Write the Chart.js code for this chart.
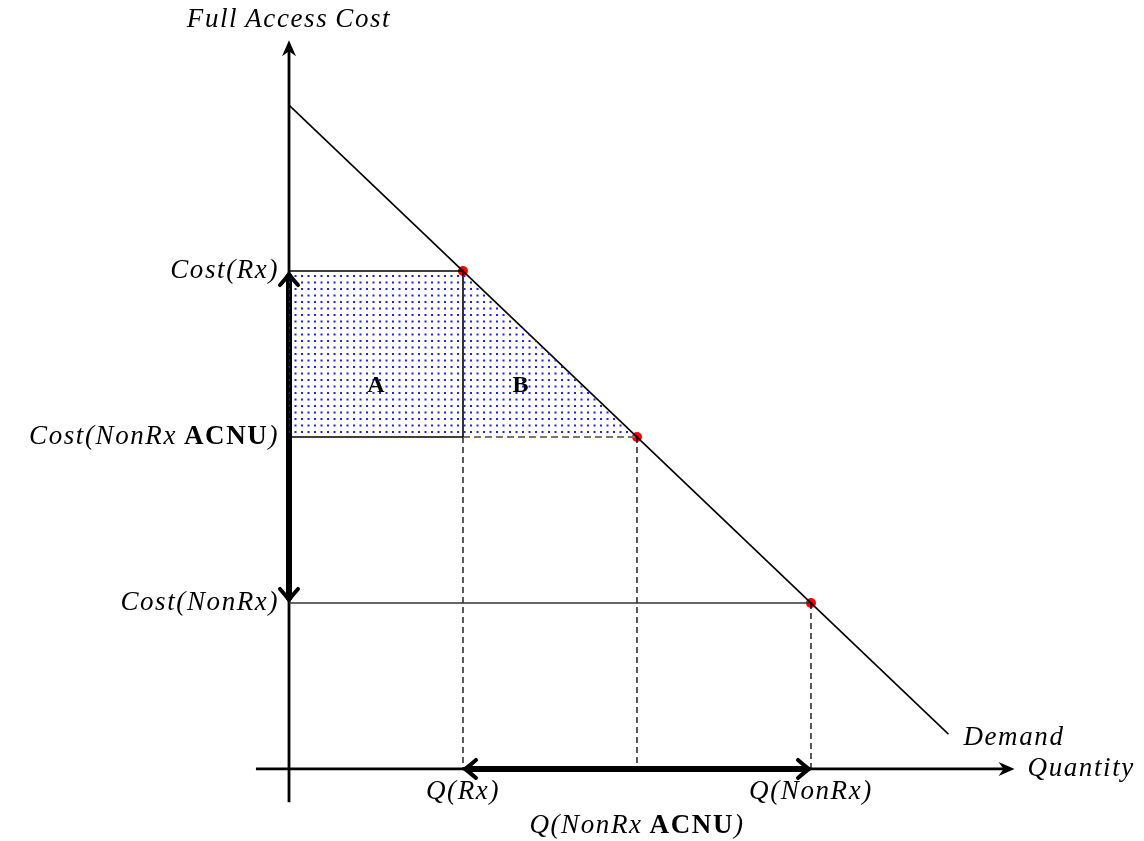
<!DOCTYPE html>
<html>
<head>
<meta charset="utf-8">
<script src="https://cdn.jsdelivr.net/npm/chart.js@4.4.1/dist/chart.umd.min.js"></script>
<style>
  body { margin: 0; background: #fff; }
  canvas { display: block; }
</style>
</head>
<body>
<canvas id="myChart" width="1144" height="841"></canvas>
<script>
"use strict"
// Mengen (x) und Kosten (y) der drei Punkte auf der Nachfragekurve
const qLevels = [1, 2, 3];          // Q(Rx), Q(NonRx ACNU), Q(NonRx)
const costLevels = [3, 2, 1];       // Cost(Rx), Cost(NonRx ACNU), Cost(NonRx)
const demandX = [0, 3.79];
const demandY = [4, 0.21];
const xAxisRange = [-0.19, 4.17];
const yAxisRange = [-0.2, 4.39];

// Beschriftungen: [Text, fett?]
const costLabels = [
    [["Cost(Rx)", false]],
    [["Cost(NonRx\u2009", false], ["ACNU", true], [")", false]],
    [["Cost(NonRx)", false]]
];
const qLabels = [
    [["Q(Rx)", false]],
    [["Q(NonRx\u2009", false], ["ACNU", true], [")", false]],
    [["Q(NonRx)", false]]
];
const areaLabels = ["A", "B"];
const areaLabelX = [0.5, 1.33];
const areaLabelY = 2.31;

const pt = (x, y) => ({ x: x, y: y });

// Punktmuster fuer die Flaeche A + B
function dotPattern() {
    const c = document.createElement('canvas');
    c.width = 13; c.height = 13;
    const g = c.getContext('2d');
    g.fillStyle = 'rgba(30,30,255,1)';
    [[2, 2], [8.5, 2], [2, 8.5], [8.5, 8.5]].forEach(p => g.fillRect(p[0], p[1], 2, 2));
    return document.getElementById('myChart').getContext('2d').createPattern(c, 'repeat');
}

function lineSet(data, opts) {
    return Object.assign({
        type: 'line', data: data, showLine: true, pointRadius: 0,
        borderColor: '#000', borderWidth: 1.5, fill: false, tension: 0
    }, opts || {});
}

const F = '"Liberation Serif", "DejaVu Serif", serif';

function drawRich(ctx, parts, x, y, align, size, spacing) {
    ctx.textBaseline = 'middle';
    ctx.textAlign = 'left';
    ctx.letterSpacing = (spacing === undefined ? 1.6 : spacing) + 'px';
    const fonts = parts.map(p => (p[1] ? 'bold ' : 'italic ') + size + 'px ' + F);
    let widths = parts.map((p, i) => { ctx.font = fonts[i]; return ctx.measureText(p[0]).width; });
    const total = widths.reduce((a, b) => a + b, 0);
    let cx = align === 'right' ? x - total : align === 'center' ? x - total / 2 : x;
    parts.forEach((p, i) => {
        ctx.font = fonts[i];
        ctx.fillText(p[0], cx, y);
        cx += widths[i];
    });
    ctx.letterSpacing = '0px';
}

// LaTeX-artige Pfeilspitze (offen)
function chevron(ctx, tx, ty, dx, dy) {
    const len = Math.hypot(dx, dy); dx /= len; dy /= len;
    const px = -dy, py = dx;
    ctx.save();
    ctx.lineWidth = 4; ctx.lineCap = 'round'; ctx.strokeStyle = '#000';
    ctx.beginPath();
    ctx.moveTo(tx - 11 * dx + 9 * px, ty - 11 * dy + 9 * py);
    ctx.quadraticCurveTo(tx - 3 * dx + 2 * px, ty - 3 * dy + 2 * py, tx, ty);
    ctx.quadraticCurveTo(tx - 3 * dx - 2 * px, ty - 3 * dy - 2 * py, tx - 11 * dx - 9 * px, ty - 11 * dy - 9 * py);
    ctx.stroke();
    ctx.restore();
}

// gefuellte Pfeilspitze der Achsen
function stealth(ctx, tx, ty, dx, dy) {
    const len = Math.hypot(dx, dy); dx /= len; dy /= len;
    const px = -dy, py = dx;
    ctx.save();
    ctx.fillStyle = '#000';
    ctx.beginPath();
    ctx.moveTo(tx, ty);
    ctx.lineTo(tx - 16 * dx + 7 * px, ty - 16 * dy + 7 * py);
    ctx.lineTo(tx - 11 * dx, ty - 11 * dy);
    ctx.lineTo(tx - 16 * dx - 7 * px, ty - 16 * dy - 7 * py);
    ctx.closePath();
    ctx.fill();
    ctx.restore();
}

const decorations = {
    id: 'decorations',
    afterDatasetsDraw(chart) {
        const ctx = chart.ctx;
        const sx = chart.scales.x, sy = chart.scales.y;
        const X = v => sx.getPixelForValue(v), Y = v => sy.getPixelForValue(v);

        // Achsenpfeile
        stealth(ctx, X(xAxisRange[1]), Y(0), 1, 0);
        stealth(ctx, X(0), Y(yAxisRange[1]), 0, -1);

        // Doppelpfeile
        chevron(ctx, X(0), Y(costLevels[0]) + 3, 0, -1);
        chevron(ctx, X(0), Y(costLevels[2]) - 3, 0, 1);
        chevron(ctx, X(qLevels[0]) + 2, Y(0), -1, 0);
        chevron(ctx, X(qLevels[2]) - 2, Y(0), 1, 0);

        ctx.save();
        ctx.fillStyle = '#000';
        const size = 27;
        costLabels.forEach((lab, i) => drawRich(ctx, lab, X(0) - 10, Y(costLevels[i]), 'right', size));
        drawRich(ctx, qLabels[0], X(qLevels[0]), Y(0) + 23, 'center', size);
        drawRich(ctx, qLabels[2], X(qLevels[2]), Y(0) + 23, 'center', size);
        drawRich(ctx, qLabels[1], X(qLevels[1]), Y(0) + 57, 'center', size);
        drawRich(ctx, [["Full\u2009Access\u2009Cost", false]], X(0), Y(yAxisRange[1]) - 20, 'center', size);
        drawRich(ctx, [["Demand", false]], X(demandX[1]) + 15, Y(demandY[1]) + 4, 'left', size);
        drawRich(ctx, [["Quantity", false]], X(xAxisRange[1]) + 13, Y(0), 'left', size);
        areaLabels.forEach((t, i) => drawRich(ctx, [[t, true]], X(areaLabelX[i]), Y(areaLabelY), 'center', 24, 0));
        ctx.restore();
    }
};

const datasets = [
    // schraffierte Flaeche A + B
    lineSet([pt(0, costLevels[0]), pt(qLevels[0], costLevels[0]), pt(qLevels[1], costLevels[1])],
        { borderWidth: 0, fill: { value: costLevels[1] }, backgroundColor: dotPattern() }),
    // Nachfragekurve
    lineSet([pt(demandX[0], demandY[0]), pt(demandX[1], demandY[1])], { borderWidth: 1.6 }),
    lineSet([pt(0, costLevels[0]), pt(qLevels[0], costLevels[0]), pt(qLevels[0], costLevels[1])], { borderWidth: 1.6 }),
    lineSet([pt(0, costLevels[1]), pt(qLevels[0], costLevels[1])], { borderWidth: 1.5 }),
    lineSet([pt(qLevels[0], costLevels[1]), pt(qLevels[1], costLevels[1])], { borderColor: '#777', borderDash: [7, 4], borderWidth: 2 }),
    lineSet([pt(0, costLevels[2]), pt(qLevels[2], costLevels[2])], { borderColor: '#333', borderWidth: 1.5 }),
    // gestrichelte Hilfslinien
    lineSet([pt(qLevels[0], costLevels[1]), pt(qLevels[0], 0)], { borderDash: [6, 4], borderWidth: 1.3 }),
    lineSet([pt(qLevels[1], costLevels[1]), pt(qLevels[1], 0)], { borderDash: [6, 4], borderWidth: 1.3 }),
    lineSet([pt(qLevels[2], costLevels[2]), pt(qLevels[2], 0)], { borderDash: [6, 4], borderWidth: 1.3 }),
    // Achsen
    lineSet([pt(xAxisRange[0], 0), pt(xAxisRange[1] - 0.05, 0)], { borderWidth: 2.8 }),
    lineSet([pt(0, yAxisRange[0]), pt(0, yAxisRange[1] - 0.05)], { borderWidth: 2.8 }),
    // dicke Doppelpfeile
    lineSet([pt(0, costLevels[0] - 0.02), pt(0, costLevels[2] + 0.02)], { borderWidth: 6, borderCapStyle: 'butt' }),
    lineSet([pt(qLevels[0] + 0.02, 0), pt(qLevels[2] - 0.02, 0)], { borderWidth: 6, borderCapStyle: 'butt' }),
    // rote Punkte
    {
        type: 'scatter',
        data: qLevels.map((q, i) => pt(q, costLevels[i])),
        pointRadius: 5, pointBackgroundColor: '#f00', pointBorderWidth: 0
    }
];

const config = {
    type: 'scatter',
    data: { datasets: datasets },
    options: {
        responsive: false,
        animation: false,
        events: [],
        layout: { padding: 0, autoPadding: false },
        plugins: { legend: { display: false }, tooltip: { enabled: false } },
        scales: {
            x: { type: 'linear', display: false, min: -1.661, max: 4.914 },
            y: { type: 'linear', display: false, min: -0.434, max: 4.633 }
        }
    },
    plugins: [decorations]
};

new Chart(document.getElementById('myChart'), config);
</script>
</body>
</html>
